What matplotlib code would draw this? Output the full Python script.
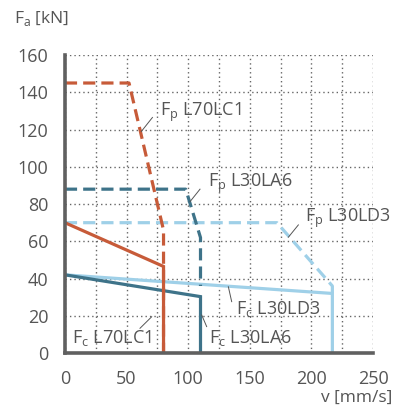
import matplotlib
matplotlib.use('Agg')
from matplotlib import pyplot as plt
from matplotlib.ticker import MultipleLocator

plt.rcParams['font.family'] = ['Open Sans', 'DejaVu Sans']

# colours
orange = '#c75b39'
teal = '#3e7389'
light = '#9fd0e8'
grey_txt = '#555555'

# curves (v in mm/s, F in kN)
fp_l70_v = [0, 52, 80, 80]
fp_l70_f = [145, 145, 66, 0]
fc_l70_v = [0, 80, 80]
fc_l70_f = [70, 46.5, 0]

fp_la6_v = [0, 98, 110, 110]
fp_la6_f = [88, 88, 62, 36]
fc_la6_v = [0, 110, 110]
fc_la6_f = [42, 30.3, 0]

fp_ld3_v = [0, 172, 217, 217]
fp_ld3_f = [70, 70, 36, 32]
fc_ld3_v = [0, 217, 217]
fc_ld3_f = [42, 32, 0]

# labels: text, text position, leader start, leader end
labels = [
    (r'F$_\mathregular{p}$ L70LC1', (77, 129), (71, 126.5), (62, 119)),
    (r'F$_\mathregular{p}$ L30LA6', (116, 91), (109.6, 88), (101.5, 81.3)),
    (r'F$_\mathregular{p}$ L30LD3', (195, 72.5), (189.4, 68.8), (181.3, 62.2)),
    (r'F$_\mathregular{c}$ L30LD3', (139, 23.5), (135.3, 27.6), (132.6, 35.6)),
    (r'F$_\mathregular{c}$ L30LA6', (116.5, 8), (115, 14.2), (111, 20.4)),
    (r'F$_\mathregular{c}$ L70LC1', (5.5, 8), (60.9, 13.3), (70.4, 19.5)),
]

fig = plt.figure(figsize=(3.96, 4.11), dpi=100)
ax = fig.add_axes([0.164, 0.141, 0.778, 0.725])

lw = 2.3
dash = (0, (3.8, 1.9))
ax.plot(fc_ld3_v, fc_ld3_f, color=light, lw=lw, solid_joinstyle='miter')
ax.plot(fp_ld3_v, fp_ld3_f, color=light, lw=lw, linestyle=dash)
ax.plot(fc_la6_v, fc_la6_f, color=teal, lw=lw, solid_joinstyle='miter')
ax.plot(fp_la6_v, fp_la6_f, color=teal, lw=lw, linestyle=dash)
ax.plot(fc_l70_v, fc_l70_f, color=orange, lw=lw, solid_joinstyle='miter')
ax.plot(fp_l70_v, fp_l70_f, color=orange, lw=lw, linestyle=dash)

for txt, pos, p0, p1 in labels:
    ax.text(pos[0], pos[1], txt, fontsize=13, color=grey_txt, ha='left', va='center')
    ax.plot([p0[0], p1[0]], [p0[1], p1[1]], color='#555555', lw=0.7)

ax.set_xlim(0, 250)
ax.set_ylim(0, 160)
ax.xaxis.set_major_locator(MultipleLocator(50))
ax.xaxis.set_minor_locator(MultipleLocator(25))
ax.yaxis.set_major_locator(MultipleLocator(20))
ax.grid(True, which='both', axis='x', color='#666666', lw=1.0, linestyle=(0, (1, 2.2)))
ax.grid(True, which='major', axis='y', color='#666666', lw=1.0, linestyle=(0, (1, 2.2)))
ax.set_axisbelow(True)

for s in ['top', 'right']:
    ax.spines[s].set_visible(False)
for s in ['left', 'bottom']:
    ax.spines[s].set_color('#606060')
    ax.spines[s].set_linewidth(2.6)
    ax.spines[s].set_zorder(5)

ax.tick_params(which='both', length=0, colors=grey_txt, labelsize=13)
ax.tick_params(axis='y', pad=12)
ax.tick_params(axis='x', pad=12)

fig.text(14 / 396, 1 - 18 / 411, r'F$_\mathregular{a}$ [kN]', fontsize=12.5, color=grey_txt,
         ha='left', va='center')
fig.text(392 / 396, 1 - 398 / 411, 'v [mm/s]', fontsize=12.5, color=grey_txt,
         ha='right', va='center')

fig.savefig('out.png', dpi=100)
